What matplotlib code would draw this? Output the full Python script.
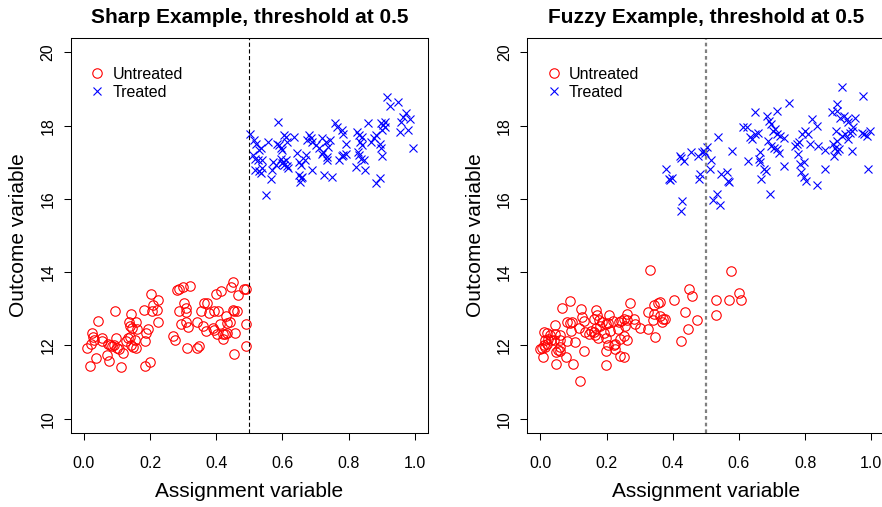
import matplotlib
matplotlib.use("Agg")
import matplotlib.pyplot as plt

plt.rcParams['font.family'] = ['Liberation Sans', 'DejaVu Sans']
plt.rcParams['lines.scale_dashes'] = False

threshold = 0.5
x_ticks = [0.0, 0.2, 0.4, 0.6, 0.8, 1.0]
x_tick_labels = ["0.0", "0.2", "0.4", "0.6", "0.8", "1.0"]
y_ticks = [10, 12, 14, 16, 18, 20]
y_tick_labels = ["10", "12", "14", "16", "18", "20"]
titles = ["Sharp Example, threshold at 0.5", "Fuzzy Example, threshold at 0.5"]
x_label = "Assignment variable"
y_label = "Outcome variable"
legend_labels = ["Untreated", "Treated"]

sharp_untreated = [
    (0.009, 11.94), (0.023, 12.35), (0.026, 12.24), (0.029, 12.15), (0.021, 12.04),
    (0.018, 11.45), (0.037, 11.65), (0.042, 12.67), (0.056, 12.20), (0.053, 12.11),
    (0.069, 11.74), (0.076, 11.56), (0.073, 12.04), (0.079, 12.02), (0.086, 11.97),
    (0.091, 12.02), (0.096, 12.20), (0.099, 11.94), (0.107, 11.91), (0.095, 12.95),
    (0.112, 11.40), (0.119, 11.79), (0.127, 12.13), (0.133, 12.20), (0.139, 12.24),
    (0.143, 12.02), (0.149, 11.95), (0.156, 11.93), (0.153, 12.15), (0.136, 12.63),
    (0.143, 12.85), (0.156, 12.63), (0.146, 12.47), (0.139, 12.52), (0.159, 12.44),
    (0.181, 12.97), (0.183, 12.13), (0.183, 11.45), (0.199, 11.54), (0.189, 12.35),
    (0.194, 12.44), (0.203, 13.41), (0.209, 13.11), (0.205, 12.95), (0.223, 13.24),
    (0.221, 12.97), (0.225, 12.63), (0.269, 12.26), (0.275, 12.15), (0.281, 13.52),
    (0.286, 13.54), (0.299, 13.58), (0.322, 13.61), (0.287, 12.93), (0.303, 13.17),
    (0.309, 13.03), (0.307, 12.90), (0.293, 12.59), (0.307, 12.63), (0.314, 12.50),
    (0.311, 11.94), (0.343, 12.65), (0.341, 11.94), (0.349, 11.99), (0.353, 12.94),
    (0.363, 13.17), (0.371, 13.15), (0.377, 12.88), (0.393, 12.95), (0.405, 12.95),
    (0.359, 12.52), (0.369, 12.40), (0.389, 12.47), (0.393, 12.41), (0.401, 12.32),
    (0.399, 13.40), (0.414, 13.49), (0.411, 12.58), (0.429, 12.79), (0.433, 12.61),
    (0.441, 12.63), (0.449, 12.97), (0.455, 12.93), (0.463, 12.93), (0.419, 12.31),
    (0.425, 12.32), (0.431, 12.33), (0.419, 12.17), (0.443, 13.58), (0.449, 13.72),
    (0.467, 13.38), (0.485, 13.53), (0.491, 13.55), (0.458, 12.33), (0.489, 12.58),
    (0.490, 11.99), (0.453, 11.77),
]

sharp_treated = [
    (0.502, 17.78), (0.515, 17.60), (0.520, 17.51), (0.512, 17.19), (0.518, 17.10),
    (0.528, 17.33), (0.535, 17.38), (0.525, 17.06), (0.538, 17.06), (0.516, 16.79),
    (0.530, 16.77), (0.535, 16.70), (0.538, 16.83), (0.550, 16.10), (0.555, 17.56),
    (0.565, 16.53), (0.568, 16.79), (0.572, 17.01), (0.580, 16.92), (0.585, 18.10),
    (0.583, 17.49), (0.590, 17.47), (0.595, 17.38), (0.600, 17.33), (0.605, 17.74),
    (0.612, 17.69), (0.615, 17.56), (0.610, 17.06), (0.603, 17.01), (0.598, 16.97),
    (0.605, 16.92), (0.615, 16.89), (0.618, 16.83), (0.595, 17.10), (0.635, 17.69),
    (0.645, 17.26), (0.650, 17.01), (0.655, 16.92), (0.650, 16.65), (0.655, 16.56),
    (0.652, 16.47), (0.660, 16.60), (0.672, 17.19), (0.668, 17.06), (0.680, 17.74),
    (0.685, 17.65), (0.675, 17.60), (0.690, 17.56), (0.688, 16.80), (0.700, 17.47),
    (0.709, 17.38), (0.719, 17.65), (0.724, 17.29), (0.731, 17.56), (0.734, 17.06),
    (0.727, 16.65), (0.739, 17.42), (0.744, 17.62), (0.749, 16.60), (0.721, 17.22),
    (0.734, 17.15), (0.759, 18.06), (0.764, 17.97), (0.779, 17.87), (0.784, 17.78),
    (0.791, 17.51), (0.771, 17.06), (0.779, 17.17), (0.784, 17.19), (0.791, 17.22),
    (0.824, 17.83), (0.831, 17.74), (0.839, 17.69), (0.834, 17.56), (0.839, 17.47),
    (0.827, 17.29), (0.831, 17.19), (0.837, 17.10), (0.847, 17.06), (0.823, 16.88),
    (0.849, 16.79), (0.859, 18.07), (0.867, 17.56), (0.877, 17.65), (0.884, 17.74),
    (0.894, 17.51), (0.899, 17.38), (0.901, 17.17), (0.884, 16.42), (0.894, 16.56),
    (0.899, 18.07), (0.904, 18.01), (0.909, 17.97), (0.901, 17.89), (0.909, 18.10),
    (0.917, 18.78), (0.924, 18.53), (0.949, 18.65), (0.954, 17.83), (0.959, 18.10),
    (0.964, 18.24), (0.974, 18.35), (0.979, 17.87), (0.984, 18.19), (0.994, 17.39),
]

fuzzy_untreated = [
    (0.005, 11.93), (0.000, 11.91), (0.010, 12.00), (0.015, 11.95), (0.020, 12.05),
    (0.008, 11.67), (0.010, 12.36), (0.020, 12.34), (0.015, 12.16), (0.022, 12.18),
    (0.028, 12.27), (0.032, 12.14), (0.040, 12.16), (0.043, 12.55), (0.045, 12.32),
    (0.048, 11.82), (0.052, 11.87), (0.058, 11.96), (0.058, 12.27), (0.060, 12.14),
    (0.060, 11.85), (0.048, 11.50), (0.066, 13.02), (0.090, 13.21), (0.080, 12.64),
    (0.090, 12.61), (0.095, 12.64), (0.093, 12.39), (0.078, 11.67), (0.099, 11.50),
    (0.080, 12.12), (0.104, 12.09), (0.121, 12.98), (0.126, 12.77), (0.131, 12.66),
    (0.116, 12.48), (0.131, 11.85), (0.119, 11.02), (0.136, 12.36), (0.146, 12.32),
    (0.153, 12.39), (0.161, 12.36), (0.166, 12.27), (0.169, 12.48), (0.163, 12.73),
    (0.169, 12.97), (0.171, 12.84), (0.178, 12.68), (0.186, 12.64), (0.179, 12.52),
    (0.173, 12.21), (0.191, 12.34), (0.199, 12.57), (0.203, 12.61), (0.206, 12.84),
    (0.211, 12.38), (0.199, 12.21), (0.203, 12.00), (0.199, 11.84), (0.197, 11.46),
    (0.219, 12.66), (0.223, 12.00), (0.226, 12.05), (0.224, 11.89), (0.233, 12.44),
    (0.236, 12.64), (0.244, 12.66), (0.241, 11.70), (0.253, 11.67), (0.239, 12.18),
    (0.251, 12.25), (0.260, 12.16), (0.256, 12.52), (0.261, 12.86), (0.260, 12.68),
    (0.253, 12.73), (0.270, 13.15), (0.284, 12.73), (0.287, 12.59), (0.302, 12.47),
    (0.324, 12.44), (0.324, 12.91), (0.330, 14.06), (0.342, 13.09), (0.344, 12.86),
    (0.340, 12.68), (0.347, 12.23), (0.354, 13.15), (0.360, 13.18), (0.362, 12.79),
    (0.367, 12.64), (0.370, 12.73), (0.377, 12.71), (0.404, 13.23), (0.424, 12.11),
    (0.438, 12.90), (0.448, 13.54), (0.447, 12.45), (0.459, 13.35), (0.473, 12.68),
    (0.529, 13.25), (0.531, 12.83), (0.577, 14.02), (0.600, 13.43), (0.571, 13.23),
    (0.607, 13.23),
]

fuzzy_treated = [
    (0.380, 16.81), (0.387, 16.54), (0.397, 16.56), (0.392, 16.51), (0.421, 17.18),
    (0.425, 17.11), (0.433, 17.02), (0.428, 15.95), (0.425, 15.66), (0.455, 17.29),
    (0.475, 17.18), (0.481, 16.68), (0.478, 16.54), (0.488, 17.27), (0.493, 17.31),
    (0.498, 17.24), (0.503, 17.42), (0.515, 17.07), (0.513, 16.81), (0.521, 15.97),
    (0.533, 16.13), (0.543, 15.82), (0.536, 17.70), (0.546, 16.68), (0.565, 16.72),
    (0.568, 16.50), (0.571, 16.45), (0.579, 17.31), (0.612, 17.97), (0.624, 17.97),
    (0.649, 18.36), (0.634, 17.68), (0.639, 17.63), (0.649, 17.77), (0.656, 17.81),
    (0.626, 17.02), (0.659, 17.09), (0.662, 17.00), (0.664, 17.27), (0.666, 16.54),
    (0.676, 16.81), (0.682, 16.77), (0.694, 16.13), (0.684, 18.27), (0.692, 18.13),
    (0.696, 18.04), (0.716, 18.40), (0.702, 17.86), (0.709, 17.90), (0.714, 17.77),
    (0.724, 17.72), (0.736, 17.66), (0.689, 17.59), (0.696, 17.45), (0.706, 17.40),
    (0.714, 17.36), (0.722, 17.24), (0.736, 16.90), (0.751, 18.63), (0.770, 17.45),
    (0.775, 17.50), (0.780, 17.54), (0.777, 17.22), (0.785, 16.95), (0.795, 17.00),
    (0.787, 16.72), (0.795, 16.59), (0.803, 16.50), (0.835, 16.39), (0.860, 16.81),
    (0.790, 17.77), (0.800, 17.86), (0.810, 17.77), (0.820, 18.18), (0.835, 17.99),
    (0.815, 17.50), (0.840, 17.45), (0.860, 17.33), (0.880, 18.36), (0.895, 18.59),
    (0.897, 18.40), (0.905, 18.22), (0.911, 19.06), (0.918, 18.27), (0.926, 18.18),
    (0.931, 18.09), (0.951, 18.22), (0.946, 17.95), (0.893, 17.86), (0.911, 17.72),
    (0.921, 17.77), (0.931, 17.63), (0.936, 17.81), (0.941, 17.86), (0.883, 17.50),
    (0.890, 17.40), (0.895, 17.31), (0.903, 17.36), (0.887, 17.18), (0.897, 17.59),
    (0.942, 17.30), (0.971, 17.81), (0.978, 17.77), (0.986, 17.72), (0.996, 17.86),
    (0.974, 18.81), (0.990, 16.81),
]

RED = "#FF0000"
BLUE = "#0000FF"

fig = plt.figure(figsize=(8.82, 5.07), dpi=100)
ax1 = fig.add_axes([0.0802, 0.1454, 0.4051, 0.7803])
ax2 = fig.add_axes([0.5978, 0.1454, 0.4051, 0.7803])

panels = [
    (ax1, sharp_untreated, sharp_treated, titles[0], "black", 0.8, (0, (3.0, 1.8))),
    (ax2, fuzzy_untreated, fuzzy_treated, titles[1], "#7F7F7F", 1.6, (0, (2.6, 2.2))),
]

for ax, untreated, treated, title, lcol, lw, ls in panels:
    ux = [p[0] for p in untreated]
    uy = [p[1] for p in untreated]
    tx = [p[0] for p in treated]
    ty = [p[1] for p in treated]
    ax.plot(ux, uy, linestyle="none", marker="o", markersize=6.8,
            markerfacecolor="none", markeredgecolor=RED, markeredgewidth=0.8,
            label=legend_labels[0])
    ax.plot(tx, ty, linestyle="none", marker="x", markersize=6.0,
            markeredgecolor=BLUE, markeredgewidth=0.8, label=legend_labels[1])
    ax.axvline(threshold, color=lcol, linewidth=lw, linestyle=ls)

    ax.set_xlim(-0.04, 1.04)
    ax.set_ylim(9.6, 20.4)
    ax.set_xticks(x_ticks)
    ax.set_xticklabels(x_tick_labels)
    ax.set_yticks(y_ticks)
    ax.set_yticklabels(y_tick_labels, rotation=90, va="center")
    ax.tick_params(direction="out", length=5, width=0.75, labelsize=11.5,
                   top=False, right=False)
    ax.tick_params(axis="x", pad=11)
    ax.tick_params(axis="y", pad=6)
    for sp in ax.spines.values():
        sp.set_linewidth(0.75)
        sp.set_color("black")

    ax.text(0.5, 1.052, title, transform=ax.transAxes, ha="center",
            va="center", fontsize=15, fontweight="bold")
    ax.text(0.5, -0.146, x_label, transform=ax.transAxes, ha="center",
            va="center", fontsize=15)
    ax.text(-0.146, 0.5, y_label, transform=ax.transAxes, ha="center",
            va="center", fontsize=15, rotation=90)

    ax.legend(loc="upper left", bbox_to_anchor=(0.056, 0.927), frameon=False,
              fontsize=11.5, handlelength=0.8, handletextpad=0.55,
              borderpad=0, borderaxespad=0, labelspacing=0.2, numpoints=1)

ax2.spines["right"].set_visible(False)

fig.savefig("out.png", dpi=100)
